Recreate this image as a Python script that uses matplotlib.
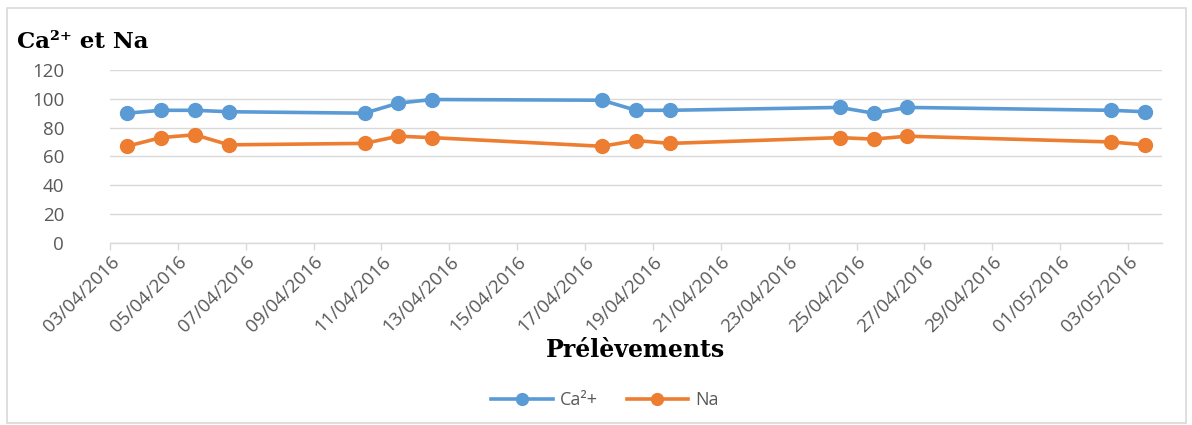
import matplotlib
matplotlib.use("Agg")
import matplotlib.pyplot as plt
import matplotlib.dates as mdates
import numpy as np
from datetime import datetime, timedelta

# Sampling dates (prélèvements)
dates = ["03/04/2016", "04/04/2016", "05/04/2016", "06/04/2016", "10/04/2016",
         "11/04/2016", "12/04/2016", "17/04/2016", "18/04/2016", "19/04/2016",
         "24/04/2016", "25/04/2016", "26/04/2016", "02/05/2016", "03/05/2016"]
ca = [90, 92, 92, 91, 90, 97, 99.5, 99, 92, 92, 94, 90, 94, 92, 91]
na = [67, 73, 75, 68, 69, 74, 73, 67, 71, 69, 73, 72, 74, 70, 68]
y_ticks = [0, 20, 40, 60, 80, 100, 120]

BLUE = "#5B9BD5"
ORANGE = "#ED7D31"
GRID = "#D9D9D9"
TXT = "#595959"

d = [datetime.strptime(s, "%d/%m/%Y") for s in dates]
# each day occupies one interval; points sit in the middle of their day
x = [mdates.date2num(v + timedelta(hours=12)) for v in d]
start = datetime(2016, 4, 3)
end = datetime(2016, 5, 4)
tick_days = [start + timedelta(days=2 * i) for i in range(16)]

fig = plt.figure(figsize=(11.92, 4.25), dpi=100)
ax = fig.add_axes([110 / 1192, 1 - 242.7 / 425, (1162 - 110) / 1192, (242.7 - 70) / 425])

ax.plot(x, ca, color=BLUE, lw=2.6, marker="o", ms=10, label="Ca²+", zorder=3)
ax.plot(x, na, color=ORANGE, lw=2.6, marker="o", ms=10, label="Na", zorder=3)

ax.set_xlim(mdates.date2num(start), mdates.date2num(end))
ax.set_ylim(0, 120)
ax.set_yticks(y_ticks)
ax.set_xticks([mdates.date2num(t) for t in tick_days])
ax.set_xticklabels([t.strftime("%d/%m/%Y") for t in tick_days], rotation=45,
                   ha="right", rotation_mode="anchor", fontsize=13.5,
                   color=TXT, family="Open Sans")
for lab in ax.get_yticklabels():
    lab.set_family("Open Sans")
ax.tick_params(axis="y", length=0, labelsize=13.5, labelcolor=TXT, pad=33)
ax.tick_params(axis="x", length=5, color=GRID, width=1, pad=2)
ax.grid(axis="y", color=GRID, lw=1)
ax.set_axisbelow(True)
for s in ["top", "right", "left"]:
    ax.spines[s].set_visible(False)
ax.spines["bottom"].set_color(GRID)
ax.spines["bottom"].set_linewidth(1)

fig.text(17 / 1192, 1 - 48 / 425, "Ca²⁺ et Na", fontsize=16.5, fontweight="bold",
         family=["DejaVu Serif"], color="black", ha="left", va="baseline")
fig.text(635 / 1192, 1 - 357 / 425, "Prélèvements", fontsize=17, fontweight="bold",
         family=["DejaVu Serif"], color="black", ha="center", va="baseline")

leg = fig.legend(loc="center", bbox_to_anchor=(605 / 1192, 1 - 400 / 425), ncol=2,
                 frameon=False, handlelength=3.4, handletextpad=0.4,
                 columnspacing=1.6, markerscale=0.85,
                 prop={"family": "Open Sans", "size": 13})
for t in leg.get_texts():
    t.set_color(TXT)

# outer chart border
fig.patches.append(plt.Rectangle((7 / 1192, 2 / 425), (1186 - 7) / 1192, (417 - 2) / 425,
                                 transform=fig.transFigure, fill=False,
                                 edgecolor="#D9D9D9", lw=1.2))

fig.savefig("out.png", dpi=100, facecolor="white")
